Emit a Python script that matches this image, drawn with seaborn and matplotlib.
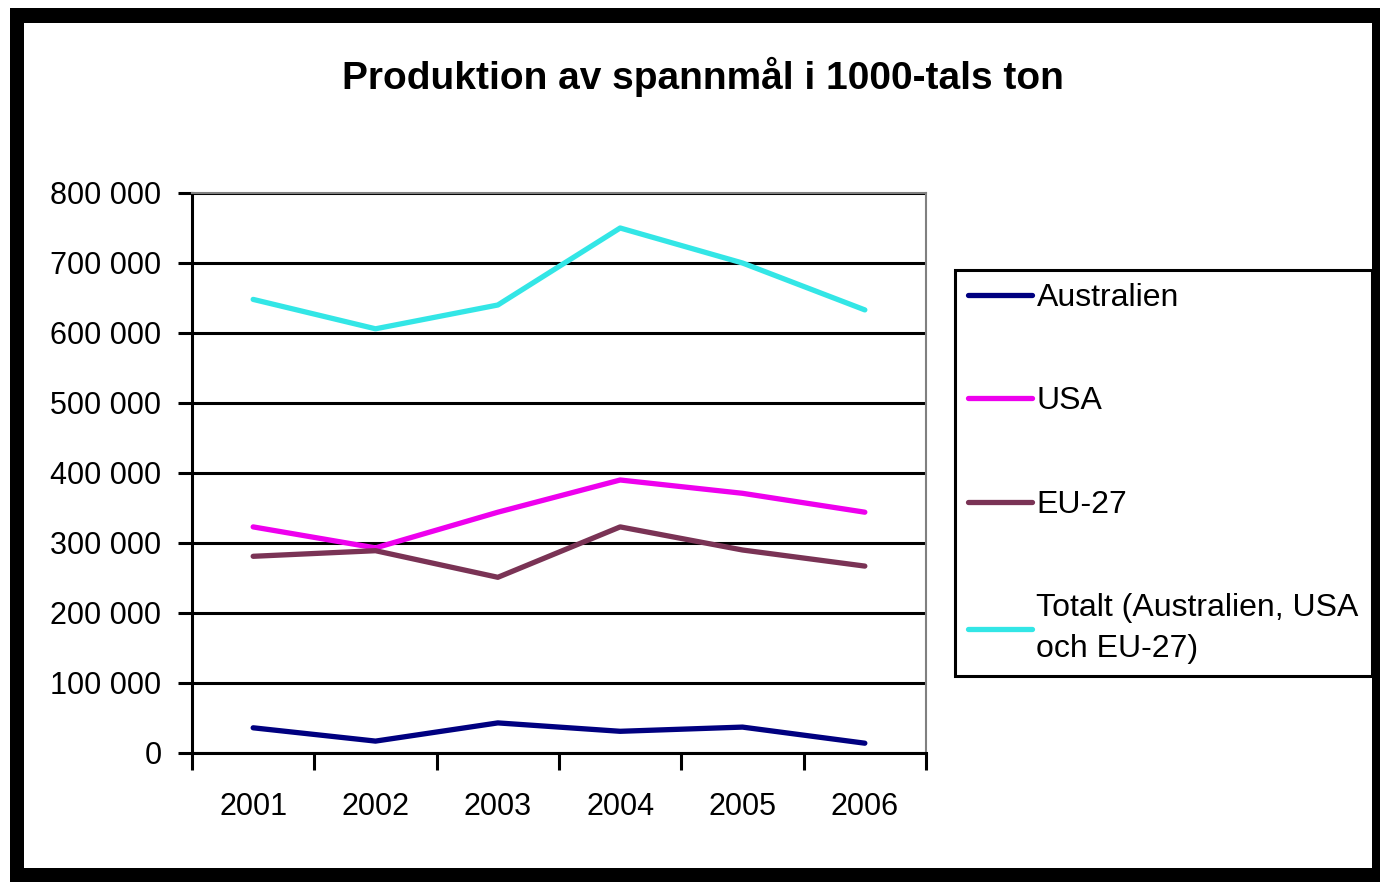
import matplotlib
matplotlib.use("Agg")
import matplotlib.pyplot as plt
import seaborn as sns
import pandas as pd
from matplotlib.patches import Rectangle
from matplotlib.ticker import FixedLocator, FuncFormatter

years = ["2001", "2002", "2003", "2004", "2005", "2006"]
australien = [36000, 17000, 43000, 31000, 37000, 14000]
usa = [323000, 293000, 344000, 390000, 371000, 344000]
eu27 = [281000, 289000, 251000, 323000, 290000, 267000]
totalt = [648000, 606000, 640000, 750000, 700000, 633000]
series_names = ["Australien", "USA", "EU-27", "Totalt (Australien, USA\noch EU-27)"]

df = pd.DataFrame({
    "year": years * 4,
    "value": australien + usa + eu27 + totalt,
    "series": [s for s in series_names for _ in years],
})

sns.set_style("white")
plt.rcParams["font.family"] = ["Liberation Sans", "DejaVu Sans"]
plt.rcParams["text.color"] = "black"
plt.rcParams["xtick.color"] = "black"
plt.rcParams["ytick.color"] = "black"

W, H = 1380, 882
fig = plt.figure(figsize=(13.8, 8.82), dpi=100)

# black frame around the picture
fig.add_artist(Rectangle((10 / W, 0), 1 - 10 / W, 1 - 8 / H, transform=fig.transFigure,
                         facecolor="black", edgecolor="none", zorder=-2))
fig.add_artist(Rectangle((24 / W, 14 / H), (1372 - 24) / W, (859 - 14) / H,
                         transform=fig.transFigure, facecolor="white", edgecolor="none", zorder=-1))

ax = fig.add_axes([192 / W, 1 - 753 / H, (926 - 192) / W, (753 - 193) / H])
ax.set_facecolor("none")

palette = ["#000080", "#ee00ee", "#7a3355", "#33e6e6"]
sns.lineplot(data=df, x="year", y="value", hue="series", palette=palette,
             linewidth=3.8, ax=ax, sort=False)

ax.set_xlim(-0.5, 5.5)
ax.set_ylim(0, 800000)
ax.set_yticks(range(0, 800001, 100000))
ax.yaxis.set_major_formatter(FuncFormatter(lambda v, p: f"{int(v):,}".replace(",", " ")))
ax.grid(axis="y", color="black", linewidth=2.2)
ax.set_axisbelow(True)

ax.xaxis.set_minor_locator(FixedLocator([i - 0.5 for i in range(7)]))
ax.tick_params(axis="x", which="major", bottom=True, length=0, pad=28, labelsize=22)
ax.tick_params(axis="x", which="minor", bottom=True, length=12, width=2.2, color="black", direction="out")
ax.tick_params(axis="y", left=True, length=10, width=2.2, color="black", direction="out", pad=12, labelsize=22)
ax.set_xlabel("")
ax.set_ylabel("")

for side in ["left", "bottom"]:
    ax.spines[side].set_color("black")
    ax.spines[side].set_linewidth(2.2)
for side in ["top", "right"]:
    ax.spines[side].set_color("#808080")
    ax.spines[side].set_linewidth(1.5)
ax.spines["bottom"].set_zorder(5)

handles, labels = ax.get_legend_handles_labels()
ax.get_legend().remove()
leg = fig.legend(handles, labels, loc="upper left", bbox_to_anchor=(955 / W, 1 - 270 / H),
                 fontsize=23, frameon=True, fancybox=False, edgecolor="black", framealpha=1,
                 handlelength=2.0, handletextpad=0.15, labelspacing=2.3,
                 borderpad=0.4, borderaxespad=0)
leg.get_frame().set_linewidth(2.2)
for h in leg.get_lines():
    h.set_linewidth(3.8)
for t in leg.get_texts():
    t.set_linespacing(1.45)

fig.text(703 / W, 1 - 77 / H, "Produktion av spannmål i 1000-tals ton",
         ha="center", va="center", fontsize=28, fontweight="bold")

fig.savefig("out.png", dpi=100, facecolor="white")
